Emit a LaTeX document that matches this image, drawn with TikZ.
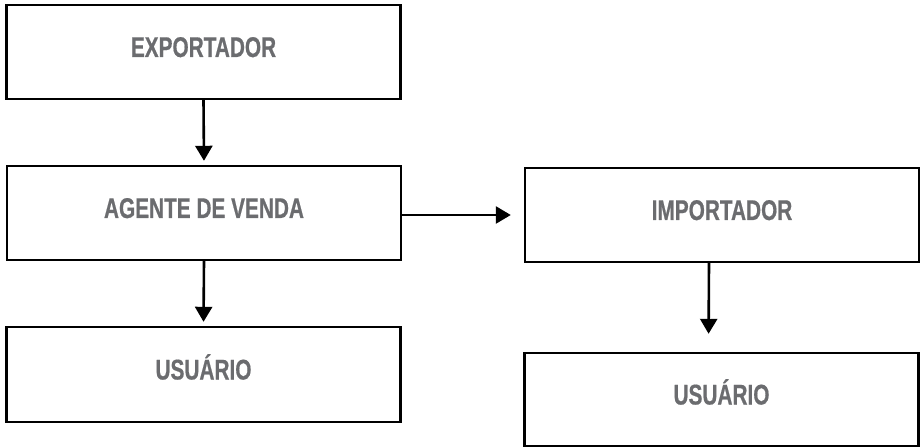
\documentclass[tikz,border=0pt]{standalone}
\usepackage{fontspec}
\setmainfont{Liberation Sans}[FakeStretch=0.73,BoldFeatures={FakeBold=0.6}]
\usetikzlibrary{arrows.meta}
\definecolor{labelgray}{HTML}{6B6C6F}
\begin{document}
\begin{tikzpicture}[x=1bp,y=-1bp,
  box/.style={draw=black,line width=2.4bp,rectangle,inner sep=0pt,
    minimum width=394bp,minimum height=94bp,
    font=\fontsize{28.5bp}{30bp}\selectfont\bfseries,text=labelgray,
    text height=20bp,text depth=10bp},
  flow/.style={line width=2.6bp,-{Triangle[width=17bp,length=15bp]}}]
  \useasboundingbox (0,0) rectangle (920,447);

  \node[box] (exp) at (203.5,52) {EXPORTADOR};
  \node[box] (agt) at (204,213) {AGENTE DE VENDA};
  \node[box,minimum height=95bp] (usl) at (203.5,374.5) {USUÁRIO};
  \node[box] (imp) at (722,215) {IMPORTADOR};
  \node[box,minimum height=93bp] (usr) at (721.5,399.5) {USUÁRIO};

  \draw[flow,shorten >=4bp] (exp.south) -- (agt.north);
  \draw[flow,shorten >=4bp] (agt.south) -- (usl.north);
  \draw[flow,shorten >=13bp] ([yshift=-2bp]agt.east) -- ([yshift=-2bp]agt.east -| imp.west);
  \draw[flow,shorten >=18bp] ([xshift=-13bp]imp.south) -- ([xshift=-13bp]usr.north);
\end{tikzpicture}
\end{document}
